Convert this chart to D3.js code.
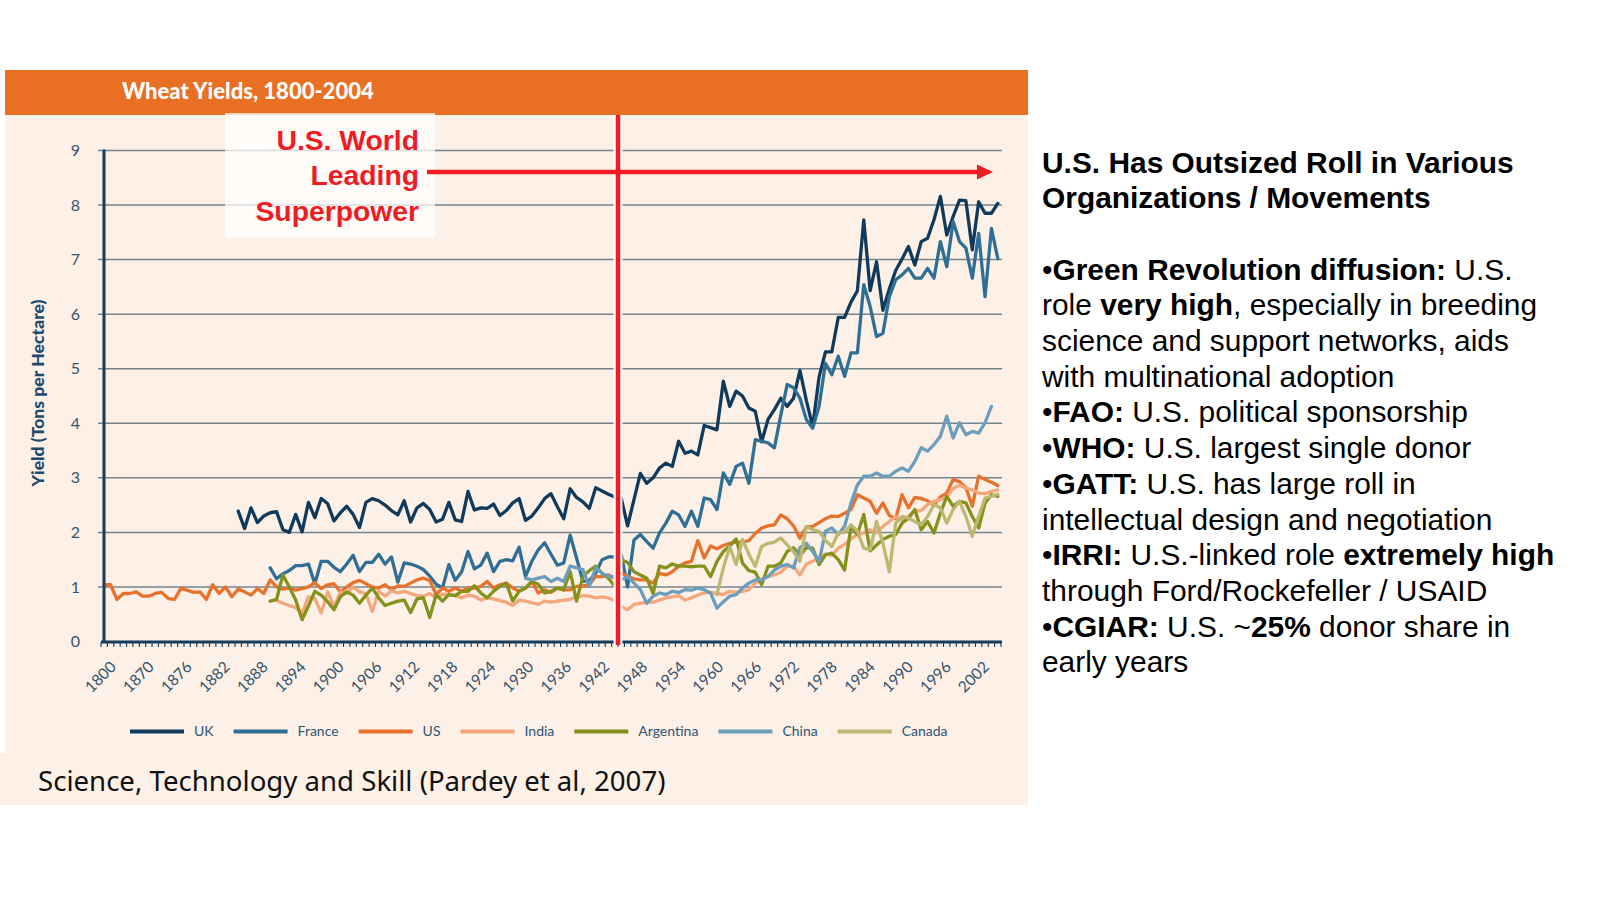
<!DOCTYPE html>
<html>
<head>
<meta charset="utf-8">
<script src="https://cdn.jsdelivr.net/npm/d3@7"></script>
<style>
  body { margin: 0; background: #fff; }
  svg { display: block; }
</style>
</head>
<body>
<div id="chart"></div>
<script>
// categories: 1800, then every year 1865-2004 (as in the source chart)
const years = [1800].concat(d3.range(1865, 2005));
const tickYears = [1800, 1870, 1876, 1882, 1888, 1894, 1900, 1906, 1912, 1918, 1924, 1930,
  1936, 1942, 1948, 1954, 1960, 1966, 1972, 1978, 1984, 1990, 1996, 2002];
const yTicks = [0, 1, 2, 3, 4, 5, 6, 7, 8, 9];

// yields in tons per hectare, one value per category from the start year
const usYield = [1.04, 1.04, 0.77, 0.88, 0.88, 0.91, 0.83, 0.83, 0.88, 0.90, 0.79, 0.77, 0.97, 0.94,
  0.90, 0.91, 0.77, 1.04, 0.88, 1.00, 0.82, 0.96, 0.91, 0.85, 0.97, 0.88, 1.13, 1.00,
  0.96, 0.98, 0.94, 0.97, 1.00, 1.08, 0.97, 1.04, 1.06, 0.91, 1.00, 1.08, 1.12, 1.06, 1.00,
  0.98, 1.04, 0.95, 1.02, 1.01, 1.07, 1.13, 1.16, 1.12, 0.86, 0.98, 0.92, 0.98, 0.92, 0.98,
  0.98, 1.01, 1.10, 0.98, 1.04, 1.07, 0.98, 0.92, 0.98, 1.10, 0.89, 0.95, 0.90, 0.98, 0.94,
  0.95, 1.01, 1.02, 1.04, 1.19, 1.19, 1.22, 1.16,
  1.25, 1.20, 1.15, 1.13, 1.13, 1.07, 1.25, 1.22, 1.28, 1.38, 1.44, 1.47, 1.85, 1.53, 1.75,
  1.70, 1.76, 1.80, 1.82, 1.82, 1.85, 1.98, 2.08, 2.12, 2.14, 2.32, 2.25, 2.12, 1.89, 2.10,
  2.11, 2.18, 2.25, 2.30, 2.29, 2.35, 2.42, 2.69, 2.63, 2.57, 2.35, 2.54, 2.31, 2.25, 2.69,
  2.45, 2.64, 2.62, 2.58, 2.50, 2.65, 2.72, 2.97, 2.93, 2.82, 2.48, 3.03, 2.97, 2.92, 2.86];

const ukYield = [2.39, 2.07, 2.45, 2.18, 2.30, 2.36, 2.38, 2.05, 2.00, 2.33, 2.01, 2.55, 2.27,
  2.62, 2.53, 2.21, 2.36, 2.48, 2.33, 2.09, 2.55, 2.62, 2.58, 2.50, 2.40, 2.32, 2.58, 2.19,
  2.45, 2.53, 2.42, 2.19, 2.24, 2.55, 2.23, 2.20, 2.75, 2.41, 2.45, 2.44, 2.52, 2.31, 2.40,
  2.54, 2.62, 2.22, 2.30, 2.45, 2.62, 2.71, 2.47, 2.25, 2.80, 2.64, 2.56, 2.44, 2.82, 2.76,
  2.70, 2.65,
  2.63, 2.12, 2.60, 3.08, 2.90, 3.00, 3.18, 3.27, 3.21, 3.67, 3.45, 3.49, 3.42, 3.96, 3.92,
  3.88, 4.77, 4.31, 4.59,
  4.50, 4.28, 4.22, 3.66, 4.07, 4.25, 4.46, 4.31, 4.46, 4.97, 4.42, 3.94, 4.85, 5.31, 5.31,
  5.94, 5.94, 6.22, 6.43, 7.73, 6.43, 6.96, 6.07, 6.46, 6.80, 7.01, 7.24, 6.90, 7.33, 7.39,
  7.73, 8.16, 7.45, 7.79, 8.09, 8.08, 7.18, 8.06, 7.85, 7.85, 8.03];

const franceYield = [1.35, 1.15, 1.24, 1.30, 1.39, 1.39, 1.42, 1.06, 1.47, 1.47, 1.36, 1.28,
  1.42, 1.58, 1.28, 1.45, 1.45, 1.60, 1.42, 1.55, 1.09, 1.44, 1.42, 1.38, 1.32, 1.20, 1.05,
  0.98, 1.41, 1.12, 1.28, 1.65, 1.33, 1.40, 1.62, 1.28, 1.47, 1.50, 1.48, 1.73, 1.19, 1.47,
  1.68, 1.81, 1.60, 1.40, 1.44, 1.95, 1.53, 1.10, 1.12, 1.25, 1.50, 1.55, 1.55,
  1.60, 1.00, 1.86, 1.96, 1.83, 1.71, 1.99, 2.17, 2.39, 2.32, 2.11, 2.39, 2.11, 2.63, 2.60,
  2.42, 3.09, 2.88, 3.21, 3.27, 2.90, 3.70, 3.67, 3.64, 3.55, 4.15, 4.71, 4.65, 4.46, 4.07,
  3.91, 4.31, 5.10, 4.89, 5.23, 4.86, 5.29, 5.29, 6.54, 6.14, 5.59, 5.65, 6.32, 6.63, 6.72,
  6.84, 6.66, 6.66, 6.84, 6.66, 7.33, 6.87, 7.70, 7.33, 7.21, 6.66, 7.48, 6.32, 7.57, 7.02];

const indiaYield = [0.75, 0.70, 0.66, 0.62, 0.52, 0.82, 0.79, 0.52, 0.91, 0.64, 0.91, 0.88,
  1.00, 0.91, 0.88, 0.55, 0.92, 0.83, 0.93, 0.89, 0.92, 0.88, 0.84, 0.83, 0.88, 0.80, 0.87,
  0.86, 0.84, 0.80, 0.85, 0.83, 0.76, 0.80, 0.78, 0.75, 0.72, 0.66, 0.76, 0.74, 0.71, 0.68,
  0.74, 0.72, 0.74, 0.76, 0.77, 0.82, 0.84, 0.83, 0.80, 0.82, 0.80, 0.74,
  0.64, 0.58, 0.68, 0.70, 0.72, 0.72, 0.76, 0.80, 0.82, 0.84, 0.76, 0.80, 0.85, 0.89, 0.90,
  0.88, 0.86, 0.92, 0.90, 0.92, 0.95, 1.07, 1.14, 1.19, 1.22, 1.27, 1.38, 1.38, 1.22, 1.42,
  1.47, 1.53, 1.60, 1.58, 1.71, 1.78, 1.88, 1.96, 1.99, 2.05, 1.99, 2.11, 2.20, 2.29, 2.23,
  2.29, 2.39, 2.40, 2.51, 2.57, 2.60, 2.65, 2.80, 2.87, 2.81, 2.78, 2.72, 2.71, 2.75, 2.78];

const argentinaYield = [0.74, 0.77, 1.22, 1.00, 0.76, 0.40, 0.65, 0.92, 0.85, 0.73, 0.58, 0.82,
  0.91, 0.85, 0.70, 0.85, 0.98, 0.80, 0.66, 0.70, 0.74, 0.76, 0.53, 0.78, 0.80, 0.44, 0.86,
  0.74, 0.86, 0.84, 0.92, 0.92, 1.02, 0.89, 0.80, 0.92, 1.01, 1.07, 0.74, 0.92, 0.98, 1.10,
  1.05, 0.89, 0.92, 0.98, 0.95, 1.28, 0.74, 1.19, 1.30, 1.38, 1.25, 1.16, 1.01,
  1.50, 1.45, 1.28, 1.22, 1.16, 0.88, 1.38, 1.35, 1.42, 1.38, 1.38, 1.37, 1.38, 1.38, 1.19,
  1.47, 1.65, 1.75, 1.88, 1.44, 1.30, 1.27, 1.04, 1.38, 1.38, 1.44, 1.65, 1.72, 1.57, 1.72,
  1.71, 1.41, 1.59, 1.62, 1.50, 1.31, 2.11, 1.96, 2.33, 1.66, 1.77, 1.87, 1.93, 1.96, 2.17,
  2.26, 2.42, 2.05, 2.20, 1.99, 2.35, 2.66, 2.48, 2.57, 2.54, 2.29, 2.08, 2.54, 2.69, 2.66];

const chinaYield = [1.16, 1.13, 1.16, 1.19, 1.10, 1.16, 1.10, 1.38, 1.35, 1.32, 1.01, 1.35,
  1.25, 1.19, 1.19,
  1.13, 1.19, 1.07, 0.95, 0.70, 0.83, 0.89, 0.86, 0.92, 0.90, 0.95, 0.94, 0.98, 0.95, 0.89,
  0.61, 0.73, 0.83, 0.86, 0.98, 1.07, 1.13, 1.13, 1.19, 1.31, 1.38, 1.41, 1.35, 1.72, 1.80,
  1.65, 1.47, 2.02, 2.08, 1.96, 2.11, 2.54, 2.87, 3.03, 3.03, 3.09, 3.03, 3.03, 3.12, 3.18,
  3.12, 3.30, 3.55, 3.49, 3.61, 3.76, 4.13, 3.73, 4.01, 3.79, 3.85, 3.82, 4.01, 4.31];

const canadaYield = [0.86, 1.35, 1.74, 1.41, 1.87, 1.60, 1.38, 1.74, 1.80, 1.82, 1.90, 1.77,
  1.65, 1.47, 2.11, 2.05, 2.02, 1.85, 1.74, 1.99, 2.00, 2.14, 2.02, 1.71, 1.68, 2.20, 1.80,
  1.28, 2.17, 2.29, 2.26, 2.20, 2.14, 2.29, 2.51, 2.45, 2.17, 2.42, 2.57, 2.29, 1.93, 2.29,
  2.63, 2.66, 2.70];

const series = [
  { name: 'UK', start: 1885, values: ukYield, color: '#0f3a5c' },
  { name: 'France', start: 1890, values: franceYield, color: '#2f6f95' },
  { name: 'US', start: 1800, values: usYield, color: '#e8722c' },
  { name: 'India', start: 1891, values: indiaYield, color: '#f4a77c' },
  { name: 'Argentina', start: 1890, values: argentinaYield, color: '#84911a' },
  { name: 'China', start: 1930, values: chinaYield, color: '#6c9dbd' },
  { name: 'Canada', start: 1960, values: canadaYield, color: '#bcb872' }
];

const notes = [
  [['U.S. Has Outsized Roll in Various', true]],
  [['Organizations / Movements', true]],
  [],
  [['•', false], ['Green Revolution diffusion:', true], [' U.S.', false]],
  [['role ', false], ['very high', true], [', especially in breeding', false]],
  [['science and support networks, aids', false]],
  [['with multinational adoption', false]],
  [['•', false], ['FAO:', true], [' U.S. political sponsorship', false]],
  [['•', false], ['WHO:', true], [' U.S. largest single donor', false]],
  [['•', false], ['GATT:', true], [' U.S. has large roll in', false]],
  [['intellectual design and negotiation', false]],
  [['•', false], ['IRRI:', true], [' U.S.-linked role ', false], ['extremely high', true]],
  [['through Ford/Rockefeller / USAID', false]],
  [['•', false], ['CGIAR:', true], [' U.S. ~', false], ['25%', true], [' donor share in', false]],
  [['early years', false]]
];

const width = 1600, height = 899;
const navy = '#143c5c', tickText = '#34536d', red = '#ef1c24';
const chartFont = 'Lato, "Open Sans", sans-serif';

const svg = d3.select('#chart').append('svg')
  .attr('width', width)
  .attr('height', height);

svg.append('rect').attr('width', width).attr('height', height).attr('fill', '#fff');

// panel, header and caption strip
svg.append('rect').attr('x', 5).attr('y', 70).attr('width', 1023).attr('height', 684).attr('fill', '#fdf0e6');
svg.append('rect').attr('x', 0).attr('y', 753).attr('width', 1028).attr('height', 52).attr('fill', '#fdf0e6');
svg.append('rect').attr('x', 5).attr('y', 70).attr('width', 1023).attr('height', 45).attr('fill', '#e96f22');
svg.append('text')
  .attr('x', 122).attr('y', 99)
  .style('font-family', chartFont).style('font-weight', 900).style('font-size', '22px')
  .attr('fill', '#fff')
  .text('Wheat Yields, 1800-2004');

const x = d3.scaleLinear().domain([-0.5, years.length - 0.5]).range([101, 1001]);
const y = d3.scaleLinear().domain([0, 9]).range([641.5, 150.5]);
const labelX = d3.scaleLinear().domain([0, years.indexOf(2002)]).range([117, 990]);

// gridlines
svg.append('g')
  .selectAll('line')
  .data(yTicks.filter(t => t > 0))
  .enter().append('line')
  .attr('x1', 98).attr('x2', 1002)
  .attr('y1', d => y(d)).attr('y2', d => y(d))
  .attr('stroke', '#76848e')
  .attr('stroke-width', 1.5);

// translucent box behind the annotation
svg.append('rect')
  .attr('x', 225).attr('y', 113).attr('width', 210).attr('height', 125)
  .attr('fill', '#fff').attr('opacity', 0.72);

// y axis labels
const yAxis = svg.append('g')
  .attr('transform', 'translate(104,0)')
  .call(d3.axisLeft(y).tickValues(yTicks).tickSize(0).tickPadding(24).tickFormat(d3.format('d')));
yAxis.select('.domain').remove();
yAxis.selectAll('text')
  .style('font-family', chartFont).style('font-size', '16px').attr('fill', tickText);

svg.append('text')
  .attr('transform', 'translate(44,393) rotate(-90)')
  .attr('text-anchor', 'middle')
  .style('font-family', chartFont).style('font-weight', 900).style('font-size', '17.6px')
  .attr('fill', '#1d4a6e')
  .text('Yield (Tons per Hectare)');

// country lines
const line = d3.line()
  .defined(d => d.v != null)
  .x(d => x(d.i))
  .y(d => y(d.v));

svg.append('g')
  .selectAll('path')
  .data(series)
  .enter().append('path')
  .attr('d', s => {
    const i0 = years.indexOf(s.start);
    return line(s.values.map((v, k) => ({ i: i0 + k, v: v })));
  })
  .attr('fill', 'none')
  .attr('stroke', s => s.color)
  .attr('stroke-width', 3.3)
  .attr('stroke-linejoin', 'round')
  .attr('stroke-linecap', 'round');

// axes lines and category ticks
svg.append('g')
  .selectAll('line')
  .data(d3.range(years.length + 1))
  .enter().append('line')
  .attr('x1', d => x(d - 0.5)).attr('x2', d => x(d - 0.5))
  .attr('y1', 642).attr('y2', 647)
  .attr('stroke', navy).attr('stroke-width', 1.1);
svg.append('line')
  .attr('x1', 101).attr('x2', 1002).attr('y1', 642).attr('y2', 642)
  .attr('stroke', navy).attr('stroke-width', 3);
svg.append('line')
  .attr('x1', 104).attr('x2', 104).attr('y1', y(9) - 1).attr('y2', 643)
  .attr('stroke', navy).attr('stroke-width', 3);

svg.append('g')
  .selectAll('text')
  .data(tickYears)
  .enter().append('text')
  .attr('transform', d => `translate(${labelX(years.indexOf(d))},668) rotate(-45)`)
  .attr('text-anchor', 'end')
  .style('font-family', chartFont).style('font-size', '15.5px')
  .attr('fill', tickText)
  .text(d => d);

// 1945 marker and arrow
const markX = x(years.indexOf(1945) - 0.5);
svg.append('line')
  .attr('x1', markX).attr('x2', markX).attr('y1', 115).attr('y2', 644)
  .attr('stroke', '#fff').attr('stroke-width', 9).attr('opacity', 0.9);
svg.append('line')
  .attr('x1', markX).attr('x2', markX).attr('y1', 115).attr('y2', 645)
  .attr('stroke', red).attr('stroke-width', 4.5);

const arrowY = 172, arrowEnd = 993;
svg.append('line')
  .attr('x1', 427).attr('x2', arrowEnd - 14).attr('y1', arrowY).attr('y2', arrowY)
  .attr('stroke', red).attr('stroke-width', 4.5);
svg.append('path')
  .attr('d', `M${arrowEnd - 16},${arrowY - 7.5}L${arrowEnd},${arrowY}L${arrowEnd - 16},${arrowY + 7.5}Z`)
  .attr('fill', red);

svg.append('g')
  .selectAll('text')
  .data(['U.S. World', 'Leading', 'Superpower'])
  .enter().append('text')
  .attr('x', 419)
  .attr('y', (d, k) => 149.5 + k * 35.7)
  .attr('text-anchor', 'end')
  .style('font-family', '"Liberation Sans", Arial, sans-serif')
  .style('font-weight', 700).style('font-size', '28.3px')
  .attr('fill', red)
  .text(d => d);

// legend
const legend = svg.append('g').attr('transform', 'translate(130,731.5)');
let lx = 0;
series.forEach(s => {
  legend.append('line')
    .attr('x1', lx).attr('x2', lx + 54).attr('y1', 0).attr('y2', 0)
    .attr('stroke', s.color).attr('stroke-width', 4);
  const t = legend.append('text')
    .attr('x', lx + 64).attr('dy', '0.35em')
    .style('font-family', chartFont).style('font-size', '14px')
    .attr('fill', '#2f5574')
    .text(s.name);
  lx += 64 + t.node().getComputedTextLength() + 20;
});

svg.append('text')
  .attr('x', 38).attr('y', 791)
  .style('font-family', '"Noto Sans", sans-serif').style('font-size', '27.6px')
  .attr('fill', '#111')
  .text('Science, Technology and Skill (Pardey et al, 2007)');

// right hand notes
const noteText = svg.append('text')
  .style('font-family', '"Liberation Sans", Arial, sans-serif')
  .style('font-size', '29.9px')
  .style('white-space', 'pre')
  .attr('fill', '#000');
notes.forEach((row, k) => {
  row.forEach((seg, j) => {
    const ts = noteText.append('tspan')
      .style('font-weight', seg[1] ? 700 : 400)
      .text(seg[0]);
    if (j === 0) ts.attr('x', 1042).attr('y', 172.5 + k * 35.7);
  });
});
</script>
</body>
</html>
